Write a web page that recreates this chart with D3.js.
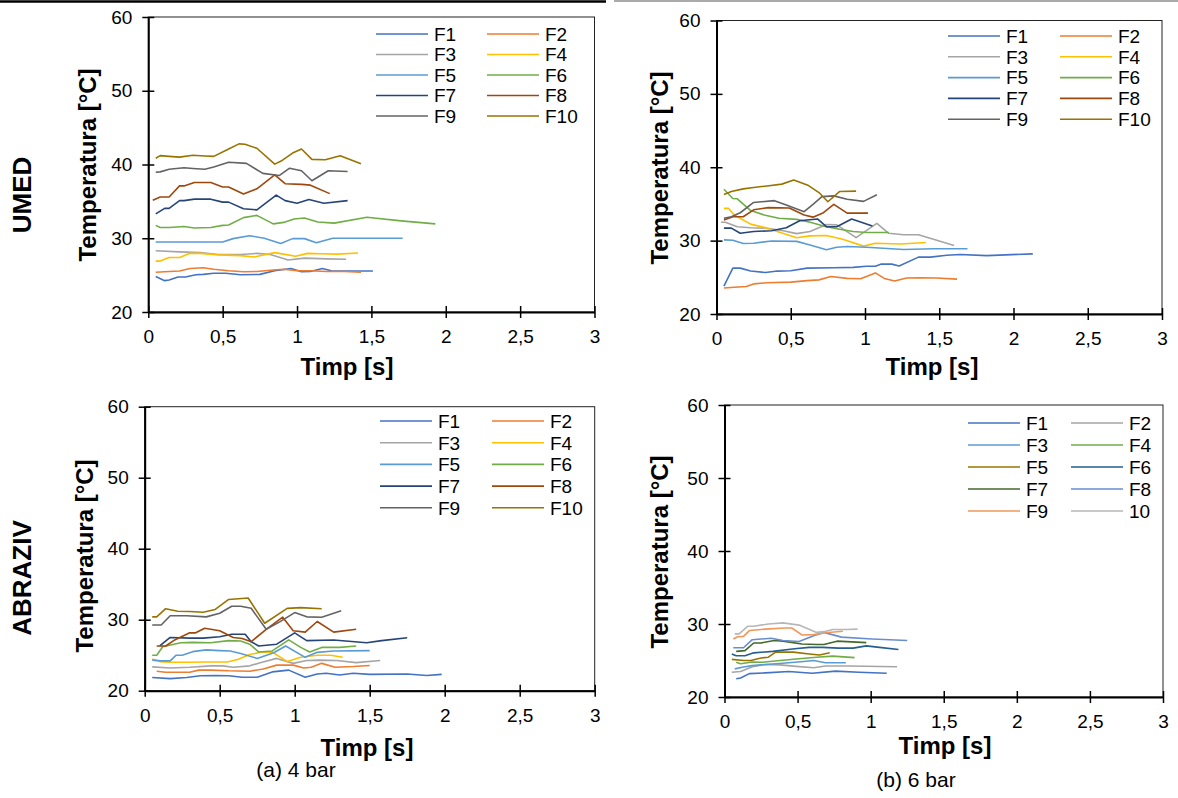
<!DOCTYPE html>
<html>
<head>
<meta charset="utf-8">
<script src="https://cdn.jsdelivr.net/npm/d3@7"></script>
<style>
  body { margin: 0; background: #fff; }
  svg { display: block; font-family: "Liberation Sans", Arial, sans-serif; }
</style>
</head>
<body>
<svg id="chart" width="1178" height="798"></svg>
<script>
// series names
const names4 = ["F1", "F2", "F3", "F4", "F5", "F6", "F7", "F8", "F9", "F10"];
const namesAbr6 = ["F1", "F2", "F3", "F4", "F5", "F6", "F7", "F8", "F9", "10"];

const xTicks = [0, 0.5, 1, 1.5, 2, 2.5, 3];
const yTicks = [20, 30, 40, 50, 60];

// UMED, 4 bar : time [s] and temperature [°C]
const umed4Time = [
  [.05,.11,.14,.20,.25,.32,.37,.44,.52,.62,.75,.85,.96,1.03,1.09,1.17,1.23,1.34,1.51],
  [.05,.14,.21,.28,.37,.44,.54,.64,.73,.84,.91,1.0,1.09,1.2,1.32,1.43],
  [.05,.21,.35,.47,.62,.73,.82,.94,1.05,1.2,1.33],
  [.05,.08,.14,.21,.28,.35,.47,.62,.71,.85,.91,.99,1.07,1.16,1.27,1.41],
  [.05,.24,.5,.57,.68,.78,.89,.97,1.05,1.13,1.24,1.45,1.71],
  [.05,.08,.14,.24,.31,.42,.5,.54,.64,.73,.84,.91,.98,1.05,1.14,1.25,1.47,1.7,1.93],
  [.05,.11,.14,.21,.24,.31,.42,.5,.54,.64,.73,.86,.92,1.0,1.08,1.18,1.34],
  [.03,.08,.14,.21,.24,.31,.42,.5,.54,.64,.73,.85,.92,1.03,1.09,1.22],
  [.05,.08,.14,.24,.3,.38,.44,.54,.66,.77,.88,.95,1.03,1.1,1.21,1.34],
  [.05,.08,.14,.21,.3,.38,.44,.53,.61,.65,.73,.85,.9,.97,1.03,1.1,1.19,1.29,1.43]
];
const umed4Temp = [
  [24.8,24.25,24.35,24.75,24.75,25.05,25.1,25.25,25.25,25.05,25.1,25.6,25.9,25.45,25.5,25.9,25.6,25.55,25.55],
  [25.4,25.5,25.55,25.9,26.0,25.8,25.6,25.45,25.5,25.7,25.8,25.6,25.6,25.5,25.5,25.4],
  [28.3,28.15,28.05,27.8,27.8,27.95,27.8,27.05,27.3,27.2,27.15],
  [26.9,26.9,27.4,27.4,27.95,27.95,27.75,27.65,27.45,28.05,27.85,27.55,27.95,27.9,27.85,28.0],
  [29.5,29.5,29.5,29.95,30.35,30.0,29.3,29.95,29.95,29.4,30.0,30.0,30.0],
  [31.75,31.45,31.45,31.6,31.4,31.45,31.75,31.8,32.8,33.1,31.95,32.15,32.6,32.75,32.2,32.05,32.85,32.35,31.95],
  [33.3,34.05,34.05,35.1,35.1,35.3,35.3,34.9,34.9,34.0,33.85,35.85,35.1,34.75,35.25,34.75,35.1],
  [35.15,35.6,35.6,37.1,37.1,37.55,37.55,36.95,36.95,36.0,36.7,38.6,37.4,37.3,37.2,36.05],
  [38.95,39.0,39.35,39.55,39.45,39.35,39.65,40.3,40.15,38.8,38.5,39.5,39.15,37.8,39.15,39.05],
  [40.85,41.2,41.1,41.0,41.25,41.15,41.1,42.0,42.8,42.75,42.2,40.05,40.55,41.55,42.1,40.7,40.65,41.2,40.1]
];

// UMED, 6 bar
const umed6Time = [
  [.05,.11,.16,.23,.33,.41,.5,.61,.79,.92,1.01,1.07,1.11,1.18,1.23,1.36,1.44,1.55,1.64,1.82,2.13],
  [.05,.12,.2,.25,.34,.5,.61,.69,.77,.88,.97,1.07,1.13,1.2,1.28,1.37,1.48,1.62],
  [.03,.06,.14,.23,.33,.45,.54,.63,.74,.81,.94,1.08,1.16,1.26,1.36,1.6],
  [.05,.08,.12,.23,.34,.43,.54,.63,.74,.85,.99,1.07,1.24,1.41],
  [.05,.11,.18,.25,.37,.54,.63,.74,.81,.88,1.01,1.26,1.46,1.69],
  [.05,.11,.14,.23,.32,.42,.54,.63,.74,.83,.92,1.01,1.16],
  [.05,.1,.16,.25,.37,.47,.56,.68,.74,.81,.91,1.05],
  [.05,.11,.18,.25,.35,.49,.59,.65,.72,.79,.88,1.02],
  [.05,.1,.16,.25,.39,.47,.59,.65,.71,.79,.88,.99,1.08],
  [.05,.1,.18,.25,.34,.44,.52,.62,.69,.75,.83,.94]
];
const umed6Temp = [
  [23.8,26.25,26.25,25.85,25.65,25.85,25.9,26.25,26.3,26.35,26.5,26.5,26.8,26.8,26.55,27.75,27.75,28.0,28.1,27.95,28.2],
  [23.55,23.65,23.75,24.1,24.25,24.35,24.55,24.65,25.1,24.85,24.8,25.6,24.85,24.5,24.9,24.95,24.9,24.75],
  [32.5,32.5,31.9,31.75,31.7,31.35,30.95,31.25,32.2,32.15,30.4,32.35,31.0,30.8,30.8,29.35],
  [34.4,34.4,33.5,32.25,31.7,31.1,30.4,30.65,30.7,30.2,29.25,29.65,29.55,29.75],
  [30.1,30.05,29.6,29.65,29.95,29.9,29.4,28.75,29.1,29.2,29.1,28.8,28.9,28.9],
  [37.0,35.75,35.7,34.1,33.5,33.05,32.9,32.5,31.9,31.55,31.25,31.1,31.1],
  [31.7,31.7,31.0,31.25,31.35,31.75,32.7,32.95,31.9,31.9,32.95,32.0],
  [32.8,33.25,33.25,34.2,34.5,34.45,33.5,33.2,33.8,34.95,33.75,33.75],
  [33.05,33.25,33.8,35.2,35.45,34.85,33.95,34.95,36.0,36.1,35.65,35.35,36.25],
  [36.3,36.7,37.05,37.25,37.45,37.7,38.25,37.5,36.55,35.3,36.7,36.75]
];

// ABRAZIV, 4 bar
const abr4Time = [
  [.05,.17,.28,.37,.47,.56,.65,.75,.85,.96,1.07,1.15,1.21,1.3,1.39,1.5,1.75,1.88,1.98],
  [.08,.14,.3,.36,.44,.56,.7,.79,.88,.99,1.06,1.11,1.18,1.27,1.39,1.5],
  [.05,.17,.3,.44,.52,.59,.7,.77,.88,.99,1.08,1.16,1.28,1.41,1.57],
  [.05,.1,.17,.3,.41,.55,.62,.7,.77,.85,.95,1.04,1.15,1.24,1.32],
  [.05,.11,.17,.21,.25,.32,.41,.5,.57,.64,.75,.86,.94,1.07,1.15,1.26,1.5],
  [.05,.08,.12,.24,.32,.44,.56,.64,.7,.76,.85,.96,1.04,1.1,1.18,1.3,1.41],
  [.1,.17,.3,.39,.5,.58,.67,.71,.76,.88,1.0,1.08,1.26,1.48,1.58,1.75],
  [.08,.14,.2,.3,.34,.4,.5,.59,.65,.71,.81,.92,.99,1.07,1.15,1.26,1.41],
  [.05,.11,.17,.28,.41,.5,.58,.64,.71,.81,.9,1.0,1.08,1.18,1.31],
  [.05,.08,.14,.22,.3,.39,.47,.56,.69,.8,.95,1.04,1.18]
];
const abr4Temp = [
  [21.85,21.7,21.85,22.1,22.15,22.1,21.9,21.9,22.65,22.9,21.9,22.35,22.45,22.2,22.45,22.3,22.35,22.15,22.3],
  [22.75,22.6,22.6,22.9,22.9,22.8,22.75,23.05,23.6,23.6,23.2,23.3,23.85,23.3,23.4,23.55],
  [23.35,23.2,23.3,23.5,23.5,23.3,23.5,23.95,24.55,23.85,24.25,24.3,24.25,23.95,24.25],
  [24.45,24.1,24.0,24.0,24.05,24.05,24.4,25.1,25.4,25.45,24.1,24.7,25.0,25.0,24.7],
  [24.3,24.2,24.2,25.0,25.0,25.5,25.75,25.65,25.6,25.25,24.55,25.35,26.3,24.7,25.4,25.6,25.65],
  [25.0,25.0,26.2,26.75,26.8,26.75,27.05,27.0,26.55,25.45,25.6,27.15,26.1,25.45,26.1,26.1,26.3],
  [26.3,27.5,27.4,27.4,27.6,27.95,27.95,26.9,26.3,26.55,28.15,27.05,27.15,26.75,27.05,27.45],
  [26.3,26.3,27.15,28.15,28.15,28.8,28.45,27.5,27.35,26.9,28.65,30.35,28.45,28.25,29.75,28.25,28.65],
  [29.25,29.25,30.55,30.55,30.4,30.9,31.9,31.9,31.6,28.65,29.7,31.0,30.4,30.35,31.25],
  [30.4,30.4,31.55,31.2,31.15,31.05,31.45,32.85,33.05,29.5,31.6,31.7,31.55]
];

// ABRAZIV, 6 bar
const abr6Time = [
  [.08,.11,.17,.28,.44,.6,.76,.92,1.11],
  [.05,.11,.2,.28,.38,.49,.61,.69,.85,1.18],
  [.07,.13,.19,.28,.42,.56,.61,.69,.83],
  [.08,.11,.19,.26,.38,.51,.63,.74,.89],
  [.05,.13,.18,.25,.3,.35,.47,.58,.65,.72],
  [.05,.08,.14,.2,.33,.48,.58,.67,.78,.88,.97,1.06,1.19],
  [.08,.14,.2,.25,.34,.4,.53,.63,.68,.77,.97],
  [.06,.13,.19,.32,.4,.51,.61,.68,.8,1.01,1.25],
  [.06,.09,.13,.17,.28,.41,.46,.53,.61,.69,.81],
  [.07,.1,.16,.2,.3,.4,.51,.63,.68,.74,.83,.91]
];
const abr6Temp = [
  [22.5,22.6,23.2,23.3,23.5,23.25,23.55,23.4,23.25],
  [23.4,23.5,24.2,24.45,24.4,24.2,24.0,24.25,24.25,24.15],
  [23.85,24.1,24.3,24.45,24.65,24.9,25.0,24.7,24.7],
  [24.75,24.55,24.8,24.75,25.0,25.25,25.45,25.6,25.4],
  [25.15,25.0,25.0,25.35,25.45,26.15,26.15,25.9,25.75,26.05],
  [25.9,25.65,25.65,26.05,26.25,26.6,26.8,26.8,26.7,26.7,27.0,26.8,26.5],
  [26.25,26.35,27.4,27.4,27.75,27.65,27.25,27.2,27.2,27.65,27.45],
  [26.75,26.75,27.85,28.05,27.75,27.6,28.4,28.85,28.2,27.95,27.75],
  [27.95,28.25,28.3,29.1,29.3,29.45,29.45,28.5,28.55,28.8,29.0],
  [28.65,28.65,29.7,29.7,30.0,30.15,29.85,28.85,28.95,29.25,29.25,29.3]
];

// colours
const colors4 = ["#4472C4", "#ED7D31", "#A5A5A5", "#FFC000", "#5B9BD5", "#70AD47", "#264478", "#9E480E", "#636363", "#997300"];
const colorsAbr6 = ["#4472C4", "#A5A5A5", "#5B9BD5", "#70AD47", "#997300", "#255E91", "#43682B", "#698ED0", "#F1975A", "#B7B7B7"];

const svg = d3.select("#chart");

// top rule
svg.append("line").attr("x1", 0).attr("x2", 606).attr("y1", 1.5).attr("y2", 1.5)
  .attr("stroke", "#000").attr("stroke-width", 2.5);
svg.append("line").attr("x1", 614).attr("x2", 1178).attr("y1", 1).attr("y2", 1)
  .attr("stroke", "#555").attr("stroke-width", 1);

const panels = [
  { time: umed4Time, temp: umed4Temp, names: names4, colors: colors4,
    left: 148.3, right: 594.5, top: 17, bottom: 312,
    xTitle: [347, 375], yTitle: [88, 165],
    leg: { x: [376, 487], y0: 34, dy: 20.5 } },
  { time: umed6Time, temp: umed6Temp, names: names4, colors: colors4,
    left: 716.5, right: 1162, top: 20.5, bottom: 314,
    xTitle: [932, 375], yTitle: [660, 168],
    leg: { x: [948, 1060], y0: 36, dy: 20.8 } },
  { time: abr4Time, temp: abr4Temp, names: names4, colors: colors4,
    left: 144.7, right: 594.7, top: 406.7, bottom: 690.7,
    xTitle: [367, 756], yTitle: [85, 556],
    leg: { x: [380, 492], y0: 421, dy: 21.7 } },
  { time: abr6Time, temp: abr6Temp, names: namesAbr6, colors: colorsAbr6,
    left: 724.5, right: 1163, top: 405, bottom: 697,
    xTitle: [945, 754], yTitle: [660, 552],
    leg: { x: [968, 1071], y0: 423, dy: 22 } }
];

const fmt = d => String(d).replace(".", ",");

panels.forEach(p => {
  const x = d3.scaleLinear().domain([0, 3]).range([p.left, p.right]);
  const y = d3.scaleLinear().domain([20, 60]).range([p.bottom, p.top]);
  const g = svg.append("g");

  // plot area frame
  g.append("rect").attr("x", p.left).attr("y", p.top)
    .attr("width", p.right - p.left).attr("height", p.bottom - p.top)
    .attr("fill", "none").attr("stroke", "#222").attr("stroke-width", 1);

  // series
  const line = d3.line().x(d => x(d[0])).y(d => y(d[1]));
  p.time.forEach((ts, i) => {
    const pts = ts.map((t, j) => [t, p.temp[i][j]]);
    g.append("path").datum(pts).attr("d", line)
      .attr("fill", "none").attr("stroke", p.colors[i])
      .attr("stroke-width", 1.6).attr("stroke-linejoin", "round");
  });

  // axes
  const xAxis = d3.axisBottom(x).tickValues(xTicks).tickFormat(fmt).tickSizeInner(6).tickSizeOuter(0).tickPadding(10);
  const yAxis = d3.axisLeft(y).tickValues(yTicks).tickSizeInner(6).tickSizeOuter(0).tickPadding(10);
  const gx = g.append("g").attr("transform", `translate(0,${p.bottom})`).call(xAxis);
  const gy = g.append("g").attr("transform", `translate(${p.left},0)`).call(yAxis);
  [gx, gy].forEach(a => {
    a.select(".domain").attr("stroke", "#000").attr("stroke-width", 2);
    a.selectAll(".tick line").attr("stroke", "#000").attr("stroke-width", 1.5);
    a.selectAll("text").attr("font-size", 19).attr("fill", "#000")
      .attr("font-family", "Liberation Sans, Arial, sans-serif");
  });
  // cross-style ticks
  gx.selectAll(".tick line").attr("y1", -6).attr("y2", 6);
  gy.selectAll(".tick line").attr("x1", -6).attr("x2", 6);
  gx.selectAll("text").attr("y", 18);

  // titles
  g.append("text").attr("x", p.xTitle[0]).attr("y", p.xTitle[1])
    .attr("text-anchor", "middle").attr("font-weight", "bold").attr("font-size", 24)
    .text("Timp [s]");
  g.append("text").attr("transform", `translate(${p.yTitle[0]},${p.yTitle[1]}) rotate(-90)`)
    .attr("text-anchor", "middle").attr("dy", "0.35em").attr("font-weight", "bold").attr("font-size", 24)
    .text("Temperatura [°C]");

  // legend
  p.names.forEach((n, i) => {
    const col = i % 2, row = Math.floor(i / 2);
    const lx = p.leg.x[col], ly = p.leg.y0 + row * p.leg.dy;
    g.append("line").attr("x1", lx).attr("x2", lx + 52).attr("y1", ly).attr("y2", ly)
      .attr("stroke", p.colors[i]).attr("stroke-width", 1.6);
    g.append("text").attr("x", lx + 58).attr("y", ly).attr("dy", "0.36em")
      .attr("font-size", 19).text(n);
  });
});

// row labels
[["UMED", 22, 195], ["ABRAZIV", 22, 578]].forEach(([t, cx, cy]) => {
  svg.append("text").attr("transform", `translate(${cx},${cy}) rotate(-90)`)
    .attr("text-anchor", "middle").attr("dy", "0.35em")
    .attr("font-weight", "bold").attr("font-size", 26).text(t);
});

// captions
[["(a) 4 bar", 296, 777], ["(b) 6 bar", 916, 787]].forEach(([t, cx, cy]) => {
  svg.append("text").attr("x", cx).attr("y", cy).attr("text-anchor", "middle")
    .attr("font-size", 21).text(t);
});
</script>
</body>
</html>
